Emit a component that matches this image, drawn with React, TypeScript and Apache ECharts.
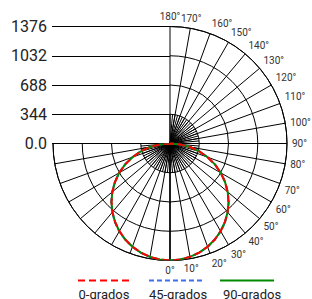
import React, { useEffect, useRef } from 'react';
import * as echarts from 'echarts';

const seriesNames = ['0-grados', '45-grados', '90-grados'];
const seriesColors = ['#ff0000', '#3f6fef', '#008a00'];
const gammaAngles = [0, 5, 10, 15, 20, 25, 30, 35, 40, 45, 50, 55, 60, 65, 70, 75, 80, 85, 90];
const plane0 = [1376, 1370, 1354, 1328, 1292, 1246, 1190, 1126, 1053, 973, 885, 790, 689, 582, 471, 356, 239, 120, 0];
const plane45 = [1376, 1370, 1355, 1329, 1293, 1248, 1193, 1129, 1056, 977, 889, 793, 691, 584, 472, 357, 240, 120, 0];
const plane90 = [1376, 1370, 1354, 1328, 1292, 1246, 1191, 1127, 1054, 974, 886, 790, 689, 582, 471, 356, 239, 120, 0];
const radiusMax = 1376;
const radiusStep = 344;
const angleMin = -90;
const angleMax = 180;
const FONT = 'Roboto';

function buildCurve(values: number[]) {
  const left = gammaAngles
    .map((g, i) => [values[i], -g])
    .reverse();
  const right = gammaAngles.map((g, i) => [values[i], g]).slice(1);
  return left.concat(right);
}

export default function App() {
  const ref = useRef<HTMLDivElement>(null);
  useEffect(() => {
    if (!ref.current) return;
    const chart = echarts.init(ref.current, undefined, { renderer: 'svg' });
    const planes = [plane0, plane45, plane90];
    const dashes: any[] = [[7, 4], [5, 3], 'solid'];
    const zs = [5, 3, 4];
    const iconLeft = 77;
    const iconWidth = 54;
    const iconGap = 20;
    const textLegends = seriesNames.map((name, i) => ({
      data: [name],
      left: iconLeft + i * (iconWidth + iconGap) + iconWidth / 2 - 39.5,
      top: 288,
      padding: 0,
      itemWidth: 0,
      itemHeight: 0,
      icon: 'rect',
      itemStyle: { opacity: 0 },
      lineStyle: { opacity: 0 },
      formatter: '{t|{name}}',
      textStyle: {
        rich: {
          t: { width: 69, align: 'center', fontSize: 13, color: '#222', fontFamily: FONT },
        },
      },
    }));
    const option: any = {
      animation: false,
      grid: { left: 52, top: 26.5, width: 118, height: 117 },
      xAxis: { type: 'value', min: 0, max: 1, show: false },
      yAxis: {
        type: 'value',
        min: 0,
        max: radiusMax,
        interval: radiusStep,
        axisLine: { show: false },
        axisTick: { show: false },
        splitLine: { show: true, lineStyle: { color: '#000', width: 1 } },
        axisLabel: {
          margin: 5,
          fontSize: 16,
          color: '#222',
          fontFamily: FONT,
          formatter: (v: number) => (v === 0 ? '0.0' : String(v)),
        },
      },
      polar: [
        { center: [170, 143.5], radius: 117 },
        { center: [170, 143.5], radius: 117 * radiusStep / radiusMax },
      ],
      angleAxis: [
        {
          polarIndex: 0,
          type: 'value',
          min: angleMin,
          max: angleMax,
          interval: 10,
          startAngle: 180,
          endAngle: 450,
          clockwise: false,
          axisLine: { show: true, lineStyle: { color: '#000', width: 1 } },
          axisTick: { show: false },
          splitLine: { show: true, lineStyle: { color: '#000', width: 1 } },
          axisLabel: {
            margin: 5,
            fontSize: 10,
            color: '#333',
            fontFamily: FONT,
            formatter: (v: number) => (v >= 0 ? v + '°' : ''),
          },
        },
        {
          polarIndex: 1,
          type: 'value',
          min: angleMin,
          max: angleMax,
          interval: 5,
          startAngle: 180,
          endAngle: 450,
          clockwise: false,
          axisLine: { show: false },
          axisTick: { show: false },
          axisLabel: { show: false },
          splitLine: { show: true, lineStyle: { color: '#000', width: 1 } },
        },
      ],
      radiusAxis: [
        {
          polarIndex: 0,
          type: 'value',
          min: 0,
          max: radiusMax,
          interval: radiusStep,
          axisLine: { show: true, lineStyle: { color: '#000', width: 1 } },
          axisTick: { show: false },
          axisLabel: { show: false },
          splitLine: { show: true, lineStyle: { color: '#000', width: 1 } },
        },
        {
          polarIndex: 1,
          type: 'value',
          min: 0,
          max: radiusStep,
          show: false,
        },
      ],
      legend: [
        {
          data: seriesNames,
          left: iconLeft,
          top: 273.5,
          padding: 0,
          itemWidth: iconWidth,
          itemHeight: 14,
          itemGap: 15,
          itemStyle: { opacity: 0 },
          formatter: () => '',
          textStyle: { fontSize: 13 },
        },
        ...textLegends,
      ],
      series: [
        ...seriesNames.map((name, i) => ({
          name,
          type: 'line',
          coordinateSystem: 'polar',
          polarIndex: 0,
          data: buildCurve(planes[i]),
          symbol: 'none',
          showSymbol: false,
          silent: true,
          z: zs[i],
          color: seriesColors[i],
          itemStyle: { color: seriesColors[i] },
          lineStyle: { color: seriesColors[i], width: 2, type: dashes[i] },
        })),
        {
          name: 'nadir',
          type: 'line',
          coordinateSystem: 'polar',
          polarIndex: 0,
          data: [[0, 0], [radiusMax, 0]],
          symbol: 'none',
          silent: true,
          z: 1,
          lineStyle: { color: '#000', width: 1.5 },
        },
      ],
    };
    chart.setOption(option);
    return () => chart.dispose();
  }, []);
  return (
    <div
      ref={ref}
      style={{ position: 'fixed', left: 0, top: 0, width: 312, height: 299, background: '#fff' }}
    />
  );
}
